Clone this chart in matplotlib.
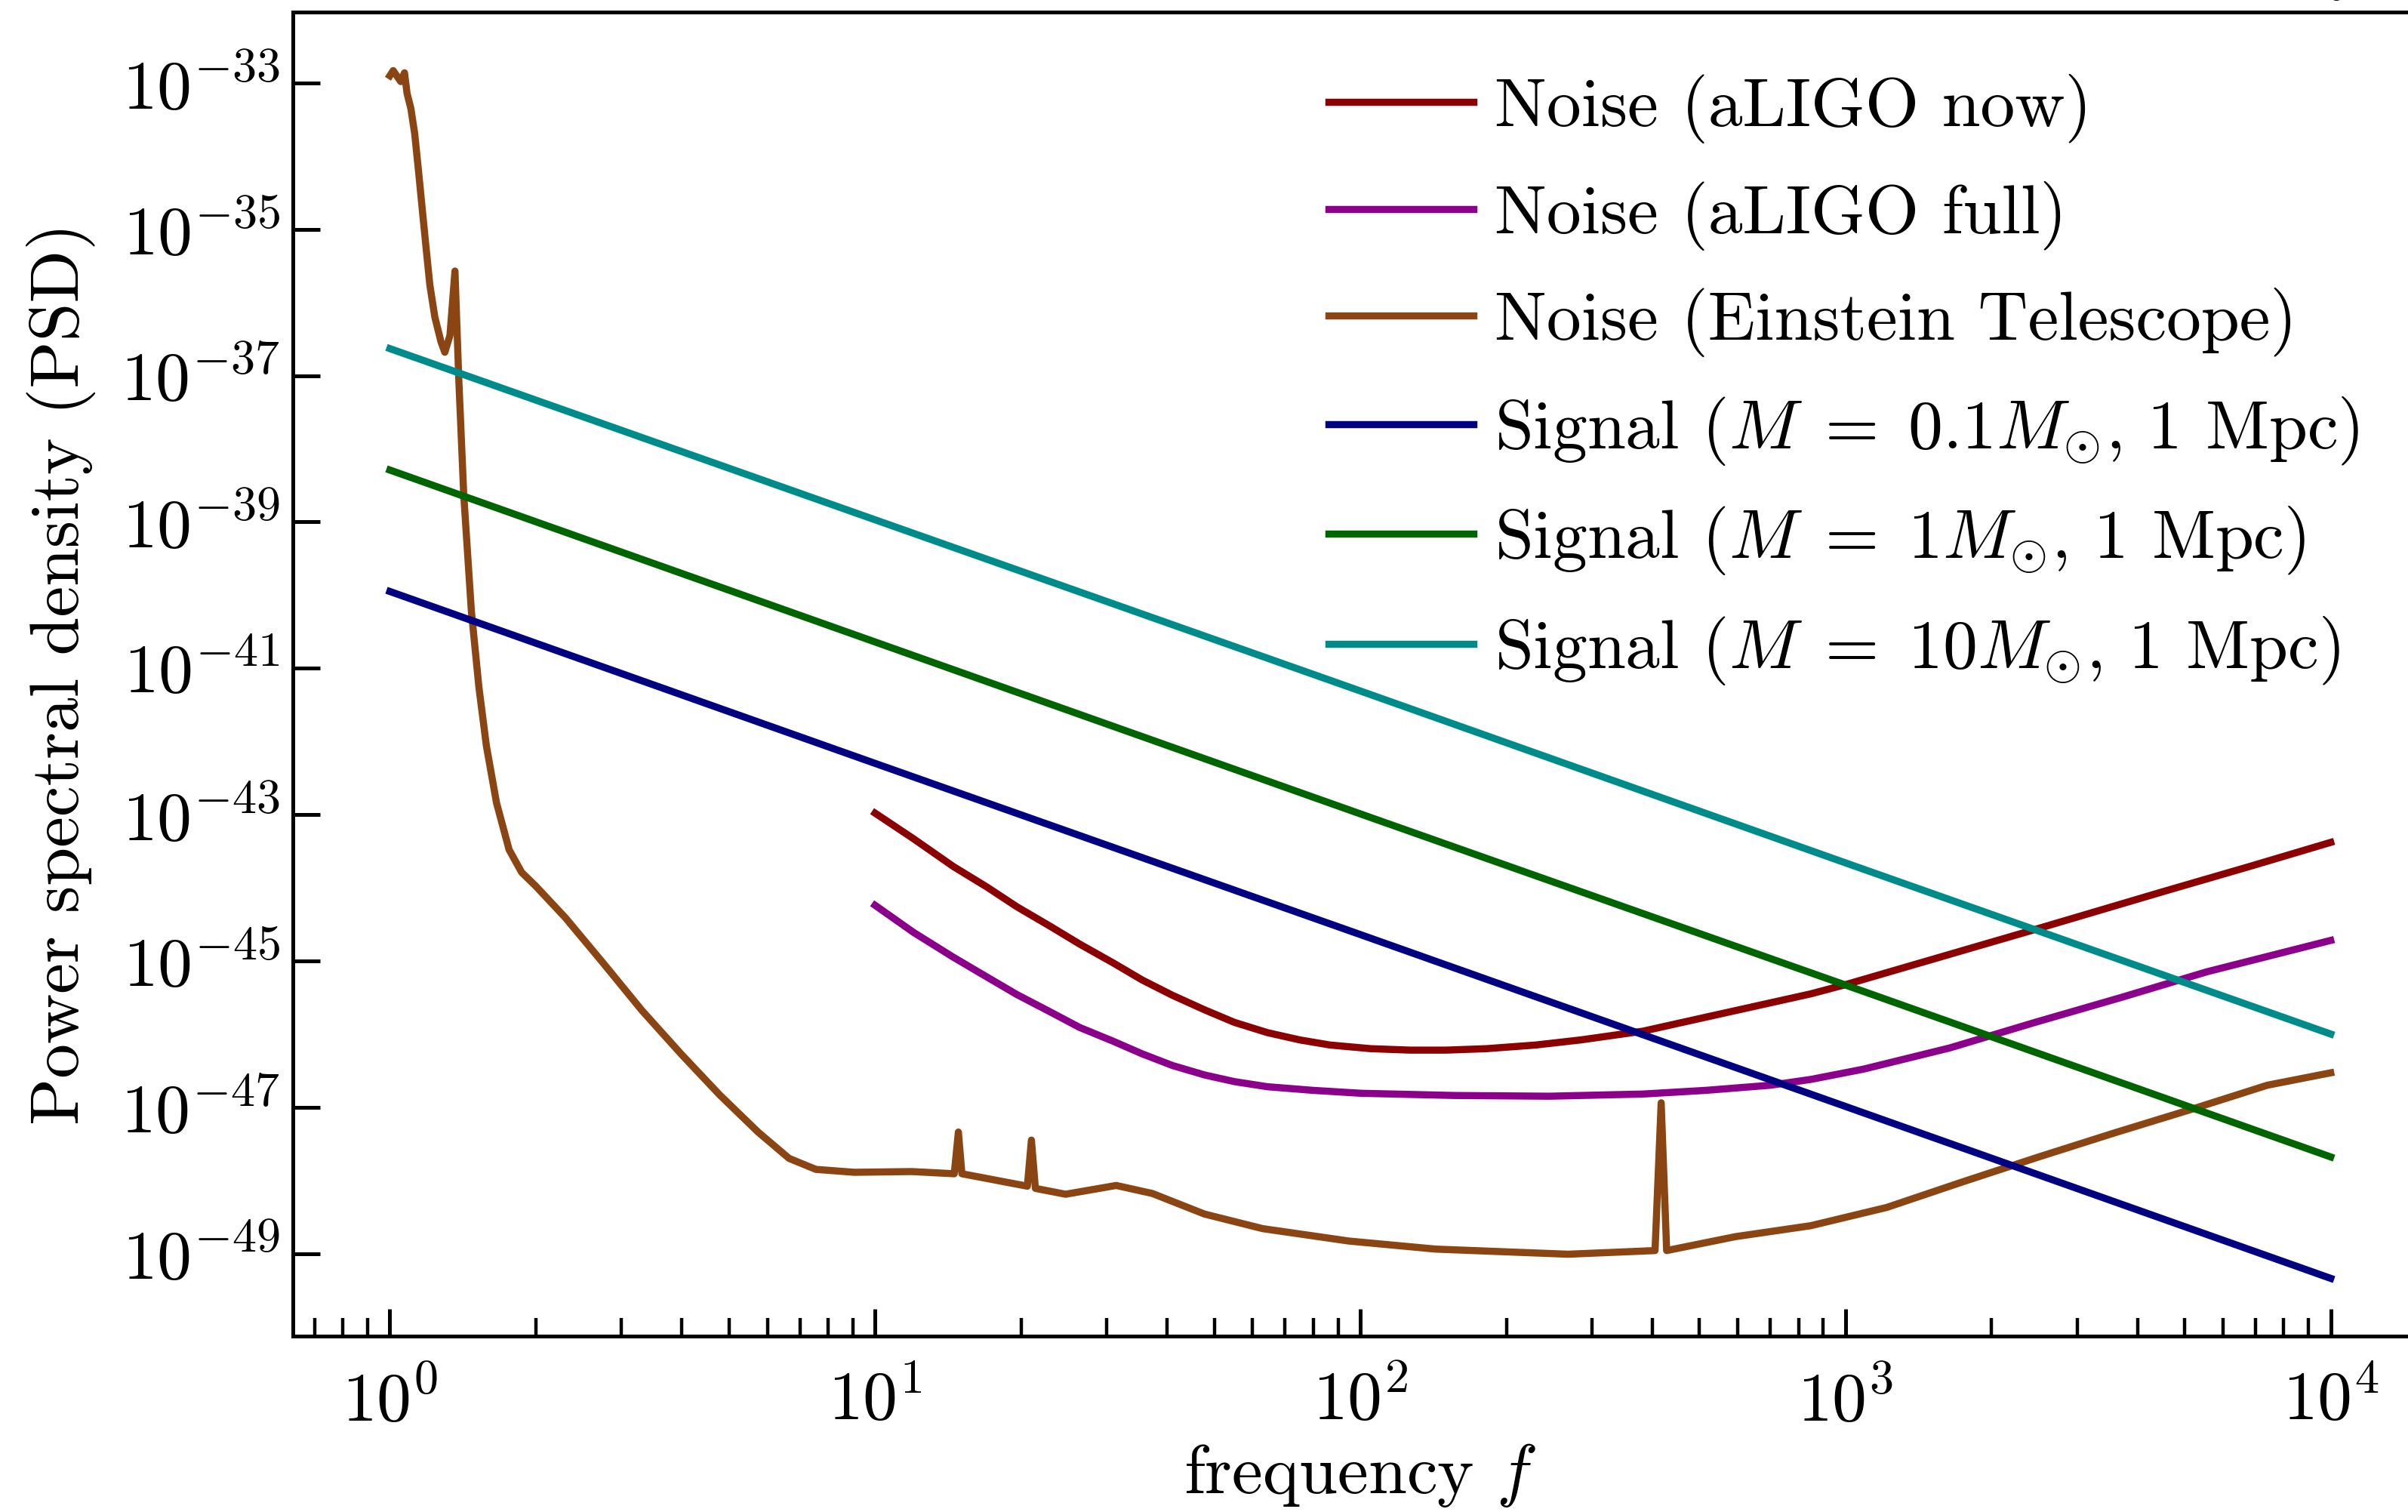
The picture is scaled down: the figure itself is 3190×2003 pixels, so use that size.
"""
Gravitational-wave detector noise curves vs. inspiral signal PSDs (log-log).
"""

import matplotlib
matplotlib.use("Agg")
import matplotlib.pyplot as plt
import numpy as np

plt.rcParams["font.family"] = "serif"
plt.rcParams["font.serif"] = ["cmr10"]
plt.rcParams["mathtext.fontset"] = "cm"
plt.rcParams["axes.formatter.use_mathtext"] = True
plt.rcParams["axes.unicode_minus"] = True

# ---- data (frequency in Hz, PSD given as log10 values) ----
f_signal = [1, 10, 100, 1000, 10000]
logpsd_signal_01 = [-39.95, -42.30, -44.64, -46.99, -49.34]
logpsd_signal_1 = [-38.29, -40.64, -42.99, -45.33, -47.68]
logpsd_signal_10 = [-36.63, -38.97, -41.31, -43.66, -46.00]

f_aligo = [10, 12, 14.5, 17, 19.6, 23, 26.4, 31, 35.5, 41, 47.8, 55, 64.3, 75,
           86.6, 105, 127, 150, 182, 230, 285, 383, 515, 849, 1006, 1640, 2460,
           4530, 6800, 10000]
logpsd_aligo_now = [-42.98, -43.33, -43.71, -43.99, -44.26, -44.53, -44.77, -45.03,
                    -45.26, -45.47, -45.67, -45.84, -45.98, -46.08, -46.15, -46.20,
                    -46.22, -46.22, -46.20, -46.15, -46.08, -45.96, -45.77, -45.45,
                    -45.32, -44.91, -44.57, -44.05, -43.71, -43.38]

f_aligo_full = [10, 12, 14.5, 17, 19.6, 23, 26.4, 31, 35.5, 41, 47.8, 55, 64.3,
                80, 100.5, 157, 245, 383, 515, 700, 849, 1089, 1640, 2460, 3700,
                5550, 10000]
logpsd_aligo_full = [-44.24, -44.61, -44.95, -45.22, -45.46, -45.70, -45.91, -46.10,
                     -46.27, -46.43, -46.56, -46.65, -46.72, -46.77, -46.81, -46.84,
                     -46.85, -46.82, -46.77, -46.70, -46.62, -46.48, -46.19, -45.84,
                     -45.50, -45.15, -44.72]

f_et = [1.0, 1.016, 1.053, 1.072, 1.085, 1.105, 1.125, 1.146, 1.166, 1.187, 1.209,
        1.238, 1.275, 1.298, 1.33, 1.362, 1.387, 1.42, 1.472, 1.526, 1.581, 1.659,
        1.761, 1.869, 2.0, 2.3, 2.76, 3.31, 3.98, 4.78, 5.74, 6.65, 7.55, 9.06,
        11.9, 14.56, 14.85, 15.1, 20.6, 21.0, 21.4, 24.7, 31.4, 37.3, 47.7, 62.9,
        94.8, 143, 268, 405, 417, 428, 593, 848, 1217, 1745, 2502, 3590, 5160,
        7400, 10000]
logpsd_et = [-32.90, -32.83, -32.98, -32.86, -33.14, -33.35, -33.69, -34.21, -34.72,
             -35.24, -35.76, -36.20, -36.54, -36.68, -36.45, -35.57, -37.05, -38.63,
             -40.21, -41.26, -42.06, -42.84, -43.48, -43.79, -43.98, -44.41, -45.04,
             -45.68, -46.27, -46.83, -47.34, -47.70, -47.85, -47.89, -47.88, -47.91,
             -47.34, -47.91, -48.08, -47.45, -48.11, -48.19, -48.07, -48.18, -48.46,
             -48.66, -48.83, -48.94, -49.01, -48.96, -46.94, -48.96, -48.77, -48.62,
             -48.37, -48.02, -47.68, -47.35, -47.03, -46.70, -46.53]

ytick_exponents = [-49, -47, -45, -43, -41, -39, -37, -35, -33]

series = [
    (f_aligo, logpsd_aligo_now, "#8B0000", "Noise (aLIGO now)"),
    (f_aligo_full, logpsd_aligo_full, "#8B008B", "Noise (aLIGO full)"),
    (f_et, logpsd_et, "#8B4513", "Noise (Einstein Telescope)"),
    (f_signal, logpsd_signal_01, "#000080", r"Signal ($M\;=\;0.1M_{\odot}$, 1 Mpc)"),
    (f_signal, logpsd_signal_1, "#006400", r"Signal ($M\;=\;1M_{\odot}$, 1 Mpc)"),
    (f_signal, logpsd_signal_10, "#008B8B", r"Signal ($M\;=\;10M_{\odot}$, 1 Mpc)"),
]

FS = 33

fig = plt.figure(figsize=(15.95, 10.015), dpi=200)
ax = fig.add_axes([0.1216, 0.1163, 0.8866, 0.8757])

for f, lp, color, label in series:
    ax.plot(f, 10.0 ** np.asarray(lp), color=color, lw=3.4, label=label)

ax.set_xscale("log")
ax.set_yscale("log")
ax.set_xlim(10 ** -0.2, 10 ** 4.2)
ax.set_ylim(10 ** -50.13, 10 ** -32.03)

ax.yaxis.set_major_locator(matplotlib.ticker.FixedLocator([10.0 ** e for e in ytick_exponents]))
ax.yaxis.set_minor_locator(matplotlib.ticker.NullLocator())
ax.xaxis.set_minor_locator(matplotlib.ticker.LogLocator(base=10.0, subs=np.arange(2, 10), numticks=20))

ax.tick_params(which="both", direction="in", labelsize=FS)
ax.tick_params(which="major", length=13, width=1.8)
ax.tick_params(which="minor", length=8.6, width=1.6)
ax.tick_params(axis="y", pad=6)
ax.tick_params(axis="x", pad=16)
for sp in ax.spines.values():
    sp.set_linewidth(1.8)
ax.spines["right"].set_visible(False)

ax.set_xlabel(r"frequency $f$", fontsize=FS, labelpad=3)
ax.set_ylabel("Power spectral density (PSD)", fontsize=FS, labelpad=12)

ax.legend(loc="upper left", bbox_to_anchor=(0.485, 0.953), frameon=False,
          fontsize=FS, handlelength=2.1, handletextpad=0.3, labelspacing=0.54,
          borderpad=0.0, borderaxespad=0.0)

# tail of the (cropped) title glyph at the top edge
fig.text(0.9745, 1.009, "y", fontsize=FS, ha="center", va="baseline")

fig.savefig("out.png", dpi=200)
